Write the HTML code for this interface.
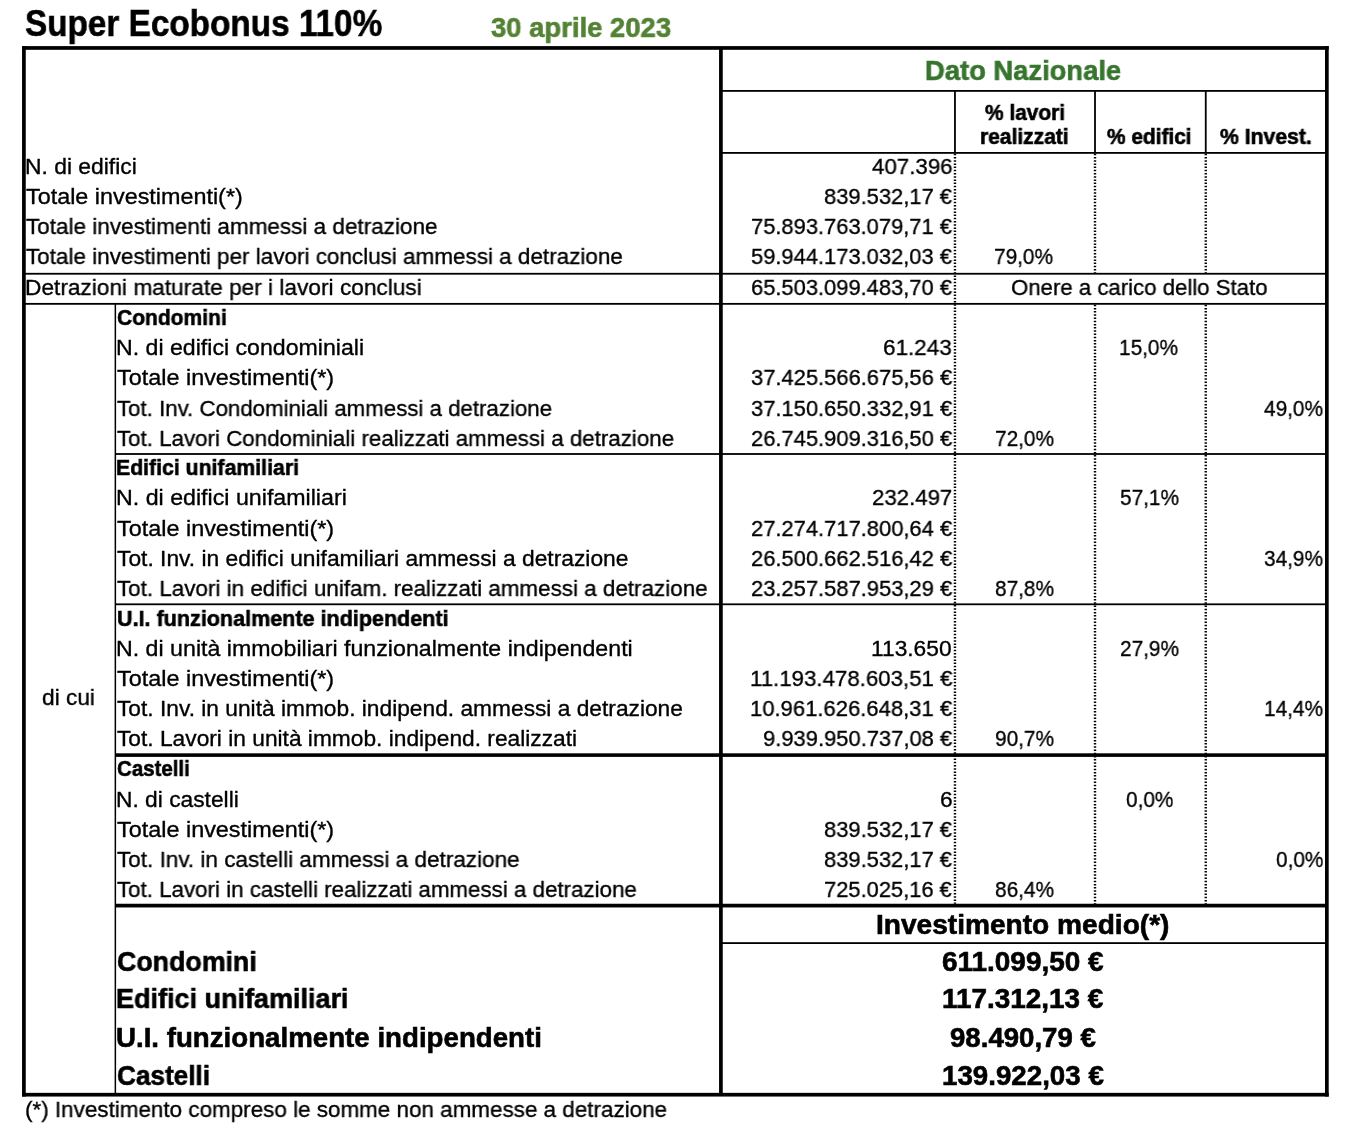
<!DOCTYPE html>
<html><head><meta charset="utf-8"><title>Super Ecobonus 110%</title>
<style>
html,body{margin:0;padding:0;background:#fff;width:1368px;height:1136px;overflow:hidden}
body{position:relative}
span{position:absolute;white-space:nowrap;font-family:"Liberation Sans",sans-serif;color:#000;transform-origin:0 0;will-change:transform;-webkit-text-stroke:0.35px currentColor}
span.b{font-weight:bold;-webkit-text-stroke:0.6px currentColor}
.g{position:absolute;left:0;top:0}
</style></head><body>
<svg class="g" width="1368" height="1136" viewBox="0 0 1368 1136"><g fill="#000"><rect x="22.05" y="46.10" width="1306.65" height="3.70"/><rect x="22.05" y="1092.85" width="1306.65" height="3.70"/><rect x="22.05" y="46.10" width="3.70" height="1050.45"/><rect x="1325.00" y="46.10" width="3.70" height="1050.45"/><rect x="719.05" y="47.95" width="3.70" height="1046.75"/><rect x="720.90" y="90.00" width="605.95" height="1.80"/><rect x="720.90" y="152.00" width="605.95" height="1.80"/><rect x="954.05" y="90.90" width="1.80" height="62.00"/><rect x="1094.10" y="90.90" width="1.80" height="62.00"/><rect x="1204.85" y="90.90" width="1.80" height="62.00"/><rect x="23.90" y="272.85" width="1302.95" height="1.80"/><rect x="23.90" y="302.95" width="1302.95" height="1.80"/><rect x="114.60" y="303.85" width="1.50" height="790.85"/><rect x="115.35" y="453.10" width="1211.50" height="1.80"/><rect x="115.35" y="603.40" width="1211.50" height="1.80"/><rect x="115.35" y="753.30" width="1211.50" height="3.60"/><rect x="115.35" y="903.75" width="1211.50" height="3.70"/><rect x="720.90" y="942.20" width="605.95" height="1.80"/></g><g stroke="#000" stroke-width="2.4" stroke-dasharray="1.5 1.7"><line x1="954.95" y1="153.80" x2="954.95" y2="903.70"/><line x1="1095.00" y1="153.80" x2="1095.00" y2="272.90"/><line x1="1095.00" y1="304.70" x2="1095.00" y2="903.70"/><line x1="1205.75" y1="153.80" x2="1205.75" y2="272.90"/><line x1="1205.75" y1="304.70" x2="1205.75" y2="903.70"/></g></svg>
<span class="b" style="left:24.92px;top:5.00px;font-size:37.791px;line-height:37.791px;transform:scaleX(0.8814)">Super Ecobonus 110%</span>
<span class="b" style="left:490.72px;top:14.00px;font-size:28.052px;line-height:28.052px;transform:scaleX(0.9786);color:#548235">30 aprile 2023</span>
<span class="b" style="left:925.07px;top:56.00px;font-size:28.343px;line-height:28.343px;transform:scaleX(0.9660);color:#37752e">Dato Nazionale</span>
<span class="b" style="left:984.74px;top:102.00px;font-size:21.802px;line-height:21.802px;transform:scaleX(0.9580)">% lavori</span>
<span class="b" style="left:980.14px;top:126.00px;font-size:21.802px;line-height:21.802px;transform:scaleX(0.9622)">realizzati</span>
<span class="b" style="left:1107.24px;top:126.00px;font-size:21.802px;line-height:21.802px;transform:scaleX(0.9570)">% edifici</span>
<span class="b" style="left:1220.03px;top:126.00px;font-size:21.802px;line-height:21.802px;transform:scaleX(0.9707)">% Invest.</span>
<span style="left:24.89px;top:155.00px;font-size:22.747px;line-height:22.747px;transform:scaleX(1.0056)">N. di edifici</span>
<span style="left:25.87px;top:185.00px;font-size:22.747px;line-height:22.747px;transform:scaleX(1.0273)">Totale investimenti(*)</span>
<span style="left:25.91px;top:215.00px;font-size:22.747px;line-height:22.747px;transform:scaleX(0.9899)">Totale investimenti ammessi a detrazione</span>
<span style="left:25.91px;top:245.00px;font-size:22.747px;line-height:22.747px;transform:scaleX(0.9882)">Totale investimenti per lavori conclusi ammessi a detrazione</span>
<span style="left:24.91px;top:276.00px;font-size:22.747px;line-height:22.747px;transform:scaleX(0.9967)">Detrazioni maturate per i lavori conclusi</span>
<span style="left:871.92px;top:155.00px;font-size:22.747px;line-height:22.747px;transform:scaleX(0.9800)">407.396</span>
<span style="left:824.04px;top:185.00px;font-size:22.747px;line-height:22.747px;transform:scaleX(0.9641)">839.532,17 €</span>
<span style="left:750.94px;top:215.00px;font-size:22.747px;line-height:22.747px;transform:scaleX(0.9633)">75.893.763.079,71 €</span>
<span style="left:750.94px;top:245.00px;font-size:22.747px;line-height:22.747px;transform:scaleX(0.9633)">59.944.173.032,03 €</span>
<span style="left:750.94px;top:276.00px;font-size:22.747px;line-height:22.747px;transform:scaleX(0.9633)">65.503.099.483,70 €</span>
<span style="left:994.48px;top:245.00px;font-size:22.747px;line-height:22.747px;transform:scaleX(0.9159)">79,0%</span>
<span style="left:1011.42px;top:276.00px;font-size:22.747px;line-height:22.747px;transform:scaleX(0.9759)">Onere a carico dello Stato</span>
<span class="b" style="left:116.88px;top:306.00px;font-size:22.747px;line-height:22.747px;transform:scaleX(0.9241)">Condomini</span>
<span style="left:115.77px;top:336.00px;font-size:22.747px;line-height:22.747px;transform:scaleX(1.0171)">N. di edifici condominiali</span>
<span style="left:116.77px;top:366.00px;font-size:22.747px;line-height:22.747px;transform:scaleX(1.0292)">Totale investimenti(*)</span>
<span style="left:116.82px;top:397.00px;font-size:22.747px;line-height:22.747px;transform:scaleX(0.9790)">Tot. Inv. Condominiali ammessi a detrazione</span>
<span style="left:116.82px;top:427.00px;font-size:22.747px;line-height:22.747px;transform:scaleX(0.9819)">Tot. Lavori Condominiali realizzati ammessi a detrazione</span>
<span style="left:883.11px;top:336.00px;font-size:22.747px;line-height:22.747px;transform:scaleX(0.9882)">61.243</span>
<span style="left:750.74px;top:366.00px;font-size:22.747px;line-height:22.747px;transform:scaleX(0.9643)">37.425.566.675,56 €</span>
<span style="left:750.74px;top:397.00px;font-size:22.747px;line-height:22.747px;transform:scaleX(0.9643)">37.150.650.332,91 €</span>
<span style="left:750.74px;top:427.00px;font-size:22.747px;line-height:22.747px;transform:scaleX(0.9643)">26.745.909.316,50 €</span>
<span style="left:1119.38px;top:336.00px;font-size:22.747px;line-height:22.747px;transform:scaleX(0.9159)">15,0%</span>
<span style="left:1264.28px;top:397.00px;font-size:22.747px;line-height:22.747px;transform:scaleX(0.9159)">49,0%</span>
<span style="left:994.53px;top:427.00px;font-size:22.747px;line-height:22.747px;transform:scaleX(0.9159)">72,0%</span>
<span class="b" style="left:115.93px;top:456.00px;font-size:22.747px;line-height:22.747px;transform:scaleX(0.9344)">Edifici unifamiliari</span>
<span style="left:115.76px;top:486.00px;font-size:22.747px;line-height:22.747px;transform:scaleX(1.0206)">N. di edifici unifamiliari</span>
<span style="left:116.77px;top:517.00px;font-size:22.747px;line-height:22.747px;transform:scaleX(1.0292)">Totale investimenti(*)</span>
<span style="left:116.80px;top:547.00px;font-size:22.747px;line-height:22.747px;transform:scaleX(1.0028)">Tot. Inv. in edifici unifamiliari ammessi a detrazione</span>
<span style="left:116.81px;top:577.00px;font-size:22.747px;line-height:22.747px;transform:scaleX(0.9861)">Tot. Lavori in edifici unifam. realizzati ammessi a detrazione</span>
<span style="left:872.22px;top:486.00px;font-size:22.747px;line-height:22.747px;transform:scaleX(0.9762)">232.497</span>
<span style="left:750.74px;top:517.00px;font-size:22.747px;line-height:22.747px;transform:scaleX(0.9643)">27.274.717.800,64 €</span>
<span style="left:750.74px;top:547.00px;font-size:22.747px;line-height:22.747px;transform:scaleX(0.9643)">26.500.662.516,42 €</span>
<span style="left:750.74px;top:577.00px;font-size:22.747px;line-height:22.747px;transform:scaleX(0.9643)">23.257.587.953,29 €</span>
<span style="left:1119.83px;top:486.00px;font-size:22.747px;line-height:22.747px;transform:scaleX(0.9159)">57,1%</span>
<span style="left:1264.28px;top:547.00px;font-size:22.747px;line-height:22.747px;transform:scaleX(0.9159)">34,9%</span>
<span style="left:994.53px;top:577.00px;font-size:22.747px;line-height:22.747px;transform:scaleX(0.9159)">87,8%</span>
<span class="b" style="left:116.85px;top:607.00px;font-size:22.747px;line-height:22.747px;transform:scaleX(0.9476)">U.I. funzionalmente indipendenti</span>
<span style="left:115.76px;top:637.00px;font-size:22.747px;line-height:22.747px;transform:scaleX(1.0197)">N. di unità immobiliari funzionalmente indipendenti</span>
<span style="left:116.77px;top:667.00px;font-size:22.747px;line-height:22.747px;transform:scaleX(1.0292)">Totale investimenti(*)</span>
<span style="left:116.80px;top:697.00px;font-size:22.747px;line-height:22.747px;transform:scaleX(1.0004)">Tot. Inv. in unità immob. indipend. ammessi a detrazione</span>
<span style="left:116.80px;top:727.00px;font-size:22.747px;line-height:22.747px;transform:scaleX(1.0002)">Tot. Lavori in unità immob. indipend. realizzati</span>
<span style="left:871.20px;top:637.00px;font-size:22.747px;line-height:22.747px;transform:scaleX(1.0013)">113.650</span>
<span style="left:749.74px;top:667.00px;font-size:22.747px;line-height:22.747px;transform:scaleX(0.9784)">11.193.478.603,51 €</span>
<span style="left:749.76px;top:697.00px;font-size:22.747px;line-height:22.747px;transform:scaleX(0.9689)">10.961.626.648,31 €</span>
<span style="left:763.03px;top:727.00px;font-size:22.747px;line-height:22.747px;transform:scaleX(0.9655)">9.939.950.737,08 €</span>
<span style="left:1119.83px;top:637.00px;font-size:22.747px;line-height:22.747px;transform:scaleX(0.9159)">27,9%</span>
<span style="left:1264.28px;top:697.00px;font-size:22.747px;line-height:22.747px;transform:scaleX(0.9159)">14,4%</span>
<span style="left:994.53px;top:727.00px;font-size:22.747px;line-height:22.747px;transform:scaleX(0.9159)">90,7%</span>
<span class="b" style="left:116.90px;top:757.00px;font-size:22.747px;line-height:22.747px;transform:scaleX(0.9000)">Castelli</span>
<span style="left:115.80px;top:788.00px;font-size:22.747px;line-height:22.747px;transform:scaleX(1.0017)">N. di castelli</span>
<span style="left:116.77px;top:818.00px;font-size:22.747px;line-height:22.747px;transform:scaleX(1.0292)">Totale investimenti(*)</span>
<span style="left:116.81px;top:848.00px;font-size:22.747px;line-height:22.747px;transform:scaleX(0.9906)">Tot. Inv. in castelli ammessi a detrazione</span>
<span style="left:116.82px;top:878.00px;font-size:22.747px;line-height:22.747px;transform:scaleX(0.9818)">Tot. Lavori in castelli realizzati ammessi a detrazione</span>
<span style="left:939.52px;top:788.00px;font-size:22.747px;line-height:22.747px;transform:scaleX(0.9819)">6</span>
<span style="left:824.04px;top:818.00px;font-size:22.747px;line-height:22.747px;transform:scaleX(0.9641)">839.532,17 €</span>
<span style="left:824.04px;top:848.00px;font-size:22.747px;line-height:22.747px;transform:scaleX(0.9641)">839.532,17 €</span>
<span style="left:824.24px;top:878.00px;font-size:22.747px;line-height:22.747px;transform:scaleX(0.9626)">725.025,16 €</span>
<span style="left:1125.79px;top:788.00px;font-size:22.747px;line-height:22.747px;transform:scaleX(0.9159)">0,0%</span>
<span style="left:1276.19px;top:848.00px;font-size:22.747px;line-height:22.747px;transform:scaleX(0.9159)">0,0%</span>
<span style="left:994.53px;top:878.00px;font-size:22.747px;line-height:22.747px;transform:scaleX(0.9159)">86,4%</span>
<span style="left:42.20px;top:686.00px;font-size:22.747px;line-height:22.747px;transform:scaleX(0.9961)">di cui</span>
<span class="b" style="left:875.82px;top:912.00px;font-size:27.035px;line-height:27.035px;transform:scaleX(1.0398)">Investimento medio(*)</span>
<span class="b" style="left:117.03px;top:948.00px;font-size:27.616px;line-height:27.616px;transform:scaleX(0.9695)">Condomini</span>
<span class="b" style="left:942.17px;top:949.00px;font-size:27.035px;line-height:27.035px;transform:scaleX(1.0342)">611.099,50 €</span>
<span class="b" style="left:116.04px;top:985.00px;font-size:27.616px;line-height:27.616px;transform:scaleX(0.9778)">Edifici unifamiliari</span>
<span class="b" style="left:942.44px;top:986.00px;font-size:27.035px;line-height:27.035px;transform:scaleX(1.0325)">117.312,13 €</span>
<span class="b" style="left:116.00px;top:1024.00px;font-size:27.616px;line-height:27.616px;transform:scaleX(1.0024)">U.I. funzionalmente indipendenti</span>
<span class="b" style="left:949.68px;top:1025.00px;font-size:27.035px;line-height:27.035px;transform:scaleX(1.0220)">98.490,79 €</span>
<span class="b" style="left:117.05px;top:1062.00px;font-size:27.616px;line-height:27.616px;transform:scaleX(0.9474)">Castelli</span>
<span class="b" style="left:942.45px;top:1063.00px;font-size:27.035px;line-height:27.035px;transform:scaleX(1.0258)">139.922,03 €</span>
<span style="left:25.01px;top:1098.00px;font-size:22.747px;line-height:22.747px;transform:scaleX(0.9867)">(*) Investimento compreso le somme non ammesse a detrazione</span>
</body></html>
